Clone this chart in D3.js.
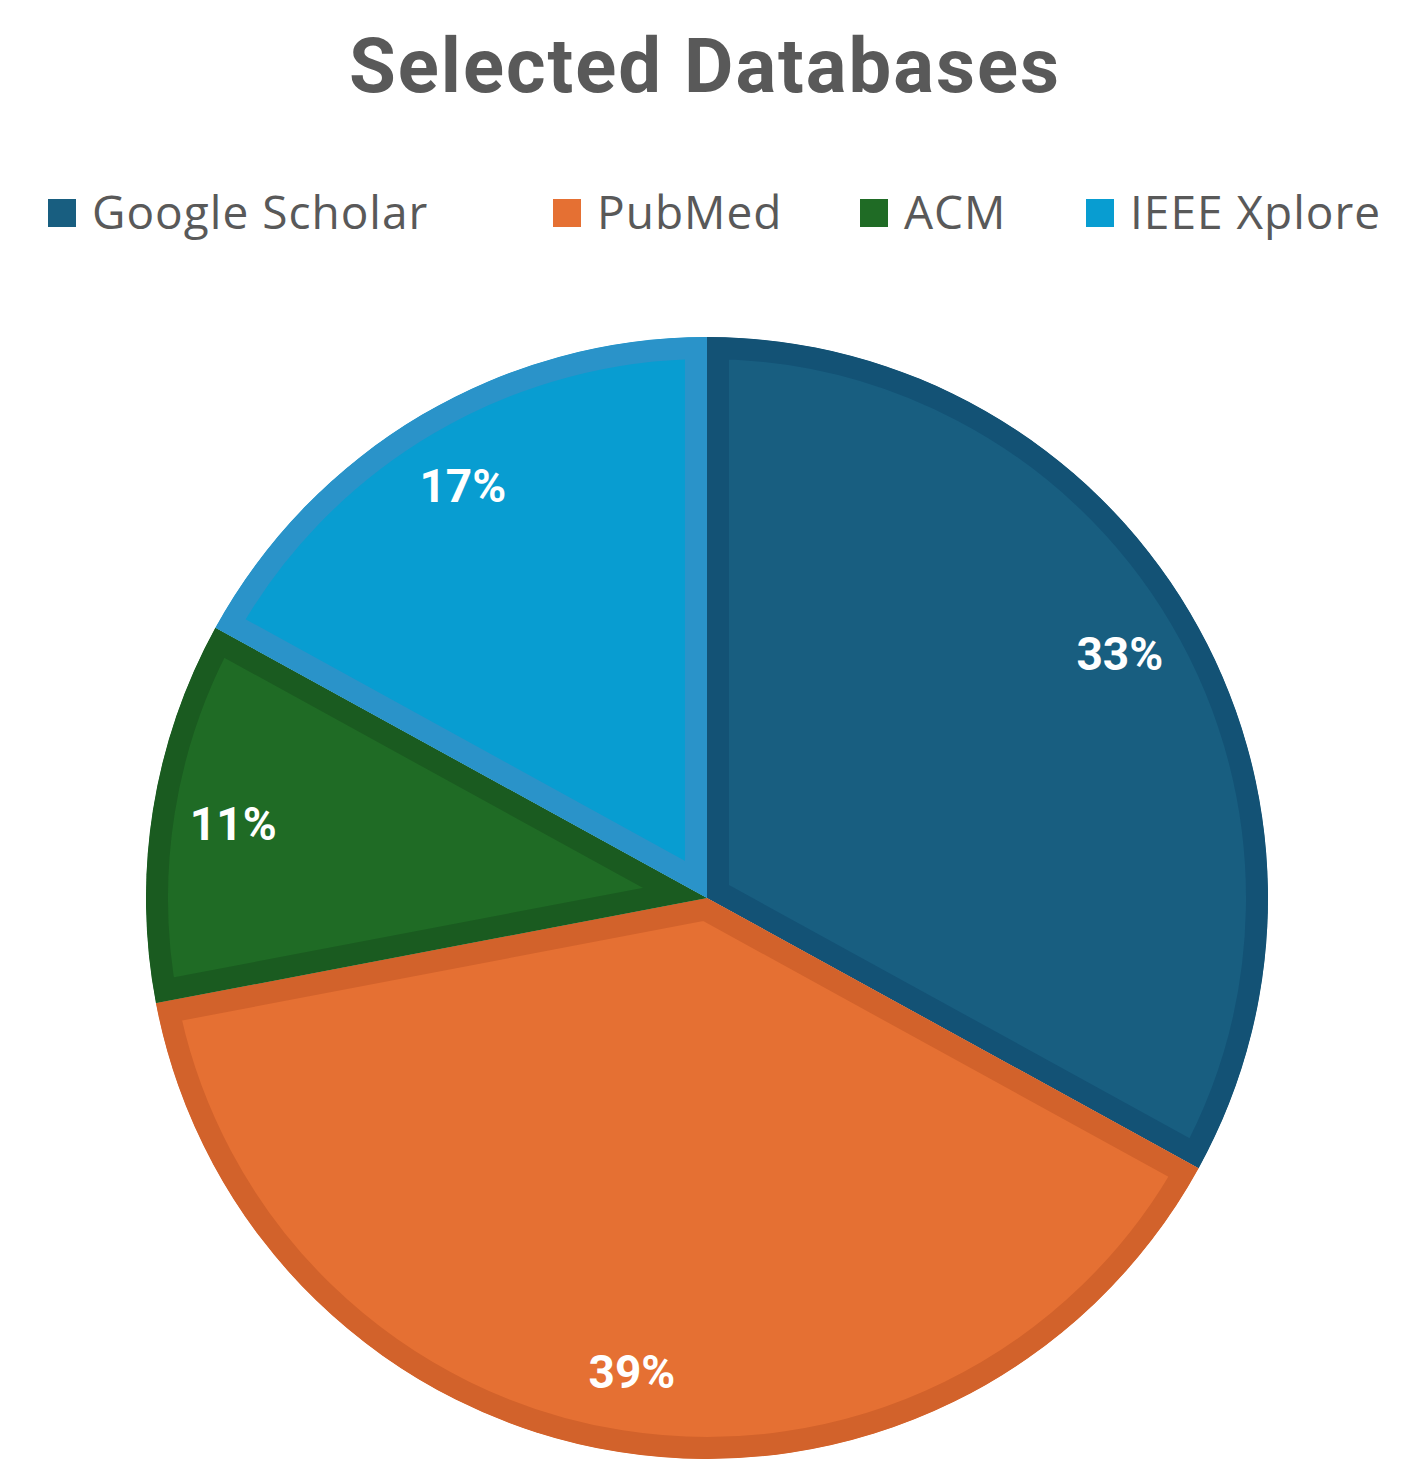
<!DOCTYPE html>
<html>
<head>
<meta charset="utf-8">
<script src="https://cdn.jsdelivr.net/npm/d3@7"></script>
<style>
  body { margin: 0; background: #fff; }
</style>
</head>
<body>
<div id="chart"></div>
<script>
const categories = ['Google Scholar', 'PubMed', 'ACM', 'IEEE Xplore'];
const shares = [33, 39, 11, 17];
const fills = ['#185e80', '#e57033', '#1f6b25', '#089dd1'];
const borders = ['#135275', '#d2622b', '#1a5b20', '#2a93c9'];

const width = 1409, height = 1471;
const cx = 707, cy = 898, radius = 561;

const svg = d3.select('#chart')
	.append('svg')
	.attr('width', width)
	.attr('height', height);

// title
svg.append('text')
	.attr('x', 705)
	.attr('y', 92)
	.attr('text-anchor', 'middle')
	.attr('font-family', 'Roboto, "DejaVu Sans", sans-serif')
	.attr('font-weight', 'bold')
	.attr('font-size', 76)
	.attr('letter-spacing', 2)
	.attr('fill', '#595959')
	.text('Selected Databases');

// legend
const legendX = [48, 553, 860, 1086];
const legend = svg.selectAll('.legend')
	.data(categories)
	.enter()
	.append('g')
	.attr('transform', (d, i) => `translate(${legendX[i]}, 213)`);
legend.append('rect')
	.attr('x', 0)
	.attr('y', -14)
	.attr('width', 28)
	.attr('height', 28)
	.attr('fill', (d, i) => fills[i]);
legend.append('text')
	.attr('x', 44)
	.attr('y', 16)
	.attr('font-family', '"Open Sans", "DejaVu Sans", sans-serif')
	.attr('font-size', 46)
	.attr('letter-spacing', 1)
	.attr('fill', '#595959')
	.text(d => d);

// pie
const pie = d3.pie().sort(null).value(d => d);
const arcs = pie(shares);
const arc = d3.arc().innerRadius(0).outerRadius(radius);
const labelArc = d3.arc().innerRadius(radius * 0.855).outerRadius(radius * 0.855);

const g = svg.append('g').attr('transform', `translate(${cx},${cy})`);
const defs = svg.append('defs');

arcs.forEach((a, i) => {
	defs.append('clipPath')
		.attr('id', 'clip' + i)
		.append('path')
		.attr('d', arc(a));
});

g.selectAll('path.slice')
	.data(arcs)
	.enter()
	.append('path')
	.attr('class', 'slice')
	.attr('d', arc)
	.attr('fill', (d, i) => fills[i])
	.attr('stroke', (d, i) => borders[i])
	.attr('stroke-width', 44)
	.attr('stroke-linejoin', 'miter')
	.attr('clip-path', (d, i) => `url(#clip${i})`);

g.selectAll('text.pct')
	.data(arcs)
	.enter()
	.append('text')
	.attr('class', 'pct')
	.attr('transform', d => `translate(${labelArc.centroid(d)})`)
	.attr('text-anchor', 'middle')
	.attr('dy', '0.36em')
	.attr('font-family', 'Roboto, "DejaVu Sans", sans-serif')
	.attr('font-weight', 'bold')
	.attr('font-size', 46)
	.attr('fill', '#fff')
	.text(d => d.data + '%');
</script>
</body>
</html>
